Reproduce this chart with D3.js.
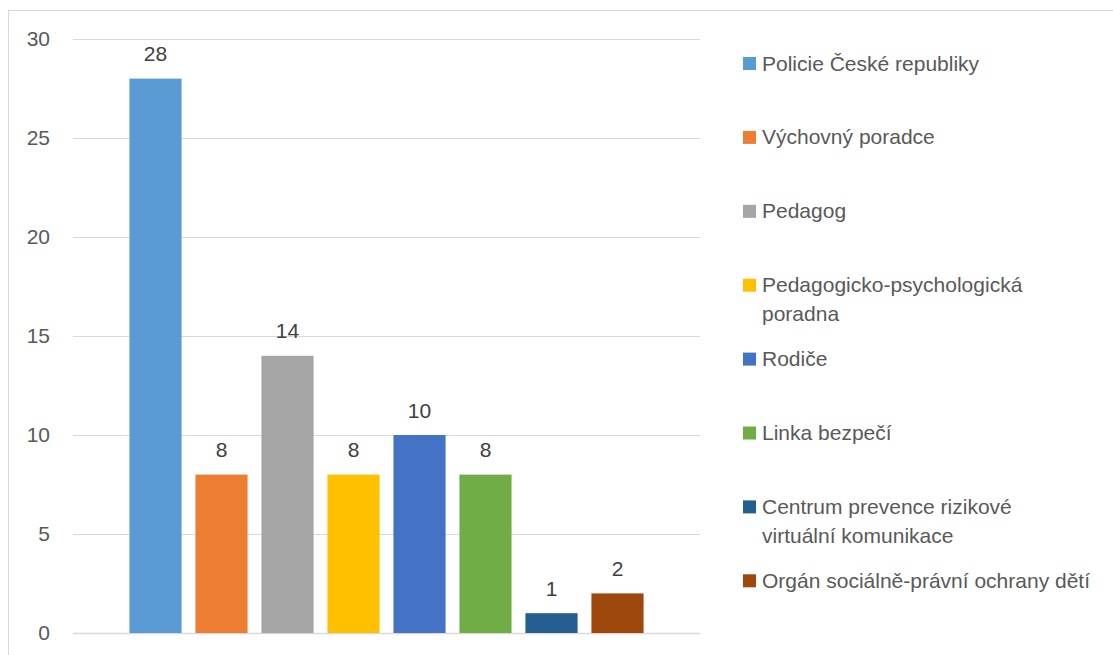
<!DOCTYPE html>
<html>
<head>
<meta charset="utf-8">
<script src="https://cdn.jsdelivr.net/npm/d3@7"></script>
<style>
  body { margin: 0; background: #fff; }
  text { font-family: "Liberation Sans", Arial, sans-serif; fill: #595959; }
</style>
</head>
<body>
<div id="chart"></div>
<script>
// data
const categories = [
  "Policie České republiky",
  "Výchovný poradce",
  "Pedagog",
  "Pedagogicko-psychologická poradna",
  "Rodiče",
  "Linka bezpečí",
  "Centrum prevence rizikové virtuální komunikace",
  "Orgán sociálně-právní ochrany dětí"
];
const legendLines = [
  ["Policie České republiky"],
  ["Výchovný poradce"],
  ["Pedagog"],
  ["Pedagogicko-psychologická", "poradna"],
  ["Rodiče"],
  ["Linka bezpečí"],
  ["Centrum prevence rizikové", "virtuální komunikace"],
  ["Orgán sociálně-právní ochrany dětí"]
];
const values = [28, 8, 14, 8, 10, 8, 1, 2];
const yTicks = [0, 5, 10, 15, 20, 25, 30];
const colors = ["#5B9BD5", "#ED7D31", "#A5A5A5", "#FFC000", "#4472C4", "#70AD47", "#255E91", "#9E480E"];

const W = 1113, H = 655;
const svg = d3.select("#chart").append("svg")
  .attr("width", W)
  .attr("height", H);

// chart border (bottom and right run off the picture)
svg.append("rect")
  .attr("x", 8.5).attr("y", 10.5)
  .attr("width", W + 20).attr("height", H + 20)
  .attr("fill", "none")
  .attr("stroke", "#D9D9D9")
  .attr("stroke-width", 1);

const plot = {left: 73, right: 700, top: 39, bottom: 633};

const x = d3.scaleBand()
  .domain(categories)
  .range([plot.left, plot.right])
  .paddingInner(0.21)
  .paddingOuter(0.855);

const y = d3.scaleLinear()
  .domain([0, 30])
  .range([plot.bottom, plot.top]);

// gridlines
svg.append("g")
  .selectAll("line")
  .data(yTicks)
  .enter()
  .append("line")
  .attr("x1", plot.left)
  .attr("x2", plot.right)
  .attr("y1", d => Math.round(y(d)) + 0.5)
  .attr("y2", d => Math.round(y(d)) + 0.5)
  .attr("stroke", "#D9D9D9")
  .attr("stroke-width", d => d === 0 ? 1.5 : 1);

// y axis labels
svg.append("g")
  .selectAll("text")
  .data(yTicks)
  .enter()
  .append("text")
  .attr("x", 50)
  .attr("y", d => y(d))
  .attr("dy", "0.35em")
  .attr("text-anchor", "end")
  .attr("font-size", 21)
  .text(d => d);

// bars
svg.append("g")
  .selectAll("rect")
  .data(values)
  .enter()
  .append("rect")
  .attr("x", (d, i) => x(categories[i]))
  .attr("width", x.bandwidth())
  .attr("y", d => y(d))
  .attr("height", d => y(0) - y(d))
  .attr("fill", (d, i) => colors[i]);

// data labels
svg.append("g")
  .selectAll("text")
  .data(values)
  .enter()
  .append("text")
  .attr("x", (d, i) => x(categories[i]) + x.bandwidth() / 2)
  .attr("y", d => y(d) - 17.5)
  .attr("text-anchor", "middle")
  .attr("font-size", 21)
  .style("fill", "#404040")
  .text(d => d);

// legend
const legend = svg.append("g")
  .selectAll("g")
  .data(legendLines)
  .enter()
  .append("g")
  .attr("transform", (d, i) => "translate(743," + (57 + i * 73.9) + ")");

legend.append("rect")
  .attr("width", 13)
  .attr("height", 13)
  .attr("fill", (d, i) => colors[i]);

legend.append("text")
  .attr("x", 19)
  .attr("y", 13.5)
  .attr("font-size", 21)
  .selectAll("tspan")
  .data(d => d)
  .enter()
  .append("tspan")
  .attr("x", 19)
  .attr("dy", (d, j) => j === 0 ? 0 : 29)
  .text(d => d);
</script>
</body>
</html>
